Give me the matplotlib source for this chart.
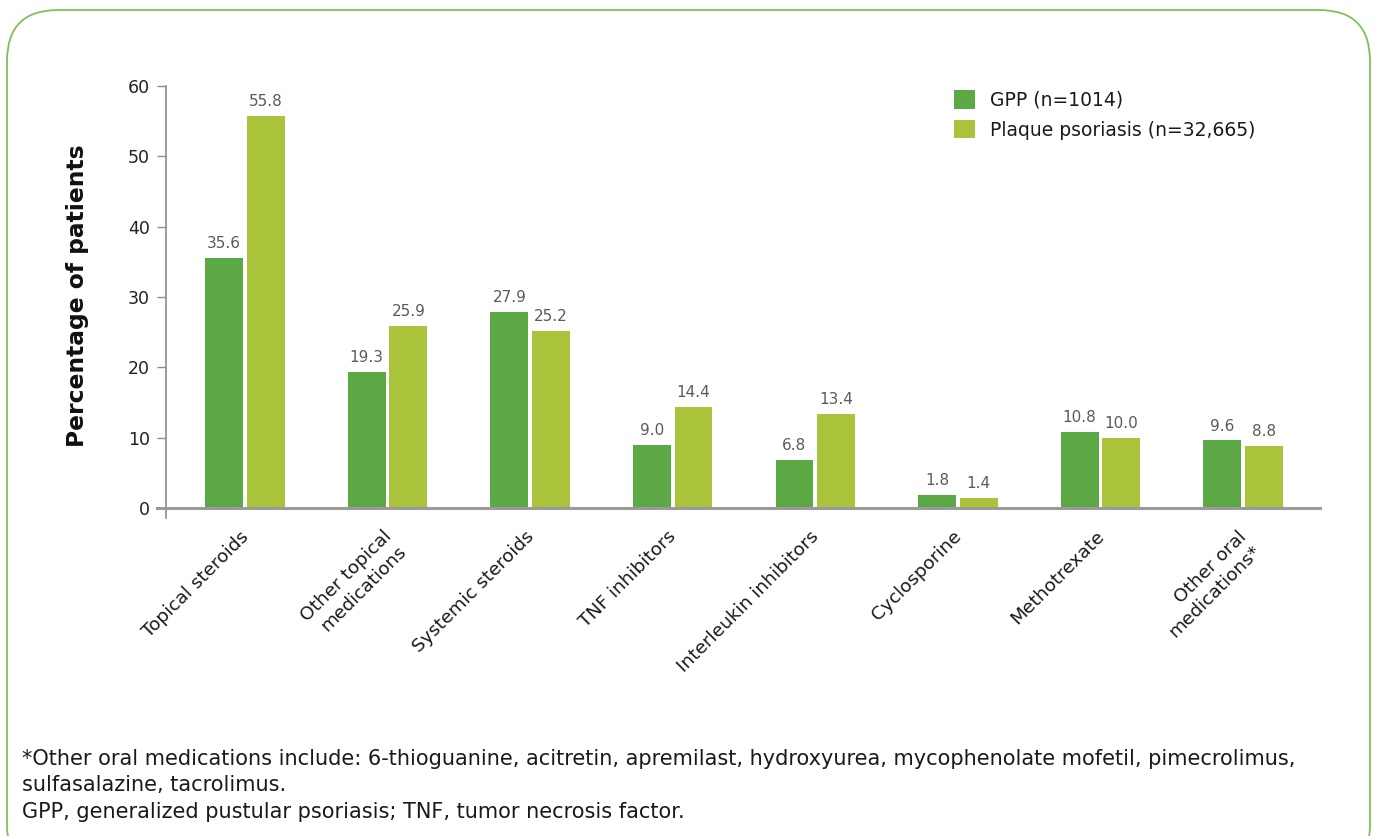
import matplotlib.pyplot as plt
from matplotlib.patches import FancyBboxPatch
import numpy as np

categories = ['Topical steroids', 'Other topical\nmedications', 'Systemic steroids',
              'TNF inhibitors', 'Interleukin inhibitors', 'Cyclosporine',
              'Methotrexate', 'Other oral\nmedications*']
gpp = [35.6, 19.3, 27.9, 9.0, 6.8, 1.8, 10.8, 9.6]
plaque = [55.8, 25.9, 25.2, 14.4, 13.4, 1.4, 10.0, 8.8]
series_names = ['GPP (n=1014)', 'Plaque psoriasis (n=32,665)']
yticks = [0, 10, 20, 30, 40, 50, 60]

dark = '#5ba845'
light = '#a9c43a'
grey = '#8c8c8c'

plt.rcParams['font.family'] = 'DejaVu Sans'
dpi = 100
fig = plt.figure(dpi=dpi, figsize=(1378 / dpi, 836 / dpi))

# rounded green frame
frame = FancyBboxPatch((7 / 1378, -40 / 836), 1363 / 1378, 866 / 836,
                       boxstyle='round,pad=0,rounding_size=0.037',
                       transform=fig.transFigure, facecolor='none',
                       edgecolor='#7cc160', linewidth=1.3, clip_on=False,
                       mutation_aspect=1378 / 836)
fig.patches.append(frame)

ax = fig.add_axes([166 / 1378, (836 - 518) / 836, 1154 / 1378, 432 / 836])
xs = np.arange(len(categories))
w = 0.266
off = 0.146
b1 = ax.bar(xs - off, gpp, width=w, color=dark, label=series_names[0], zorder=2)
b2 = ax.bar(xs + off, plaque, width=w, color=light, label=series_names[1], zorder=2)

for bars, vals in ((b1, gpp), (b2, plaque)):
    for rect, v in zip(bars, vals):
        ax.annotate(f'{v:.1f}', (rect.get_x() + rect.get_width() / 2, v),
                    xytext=(0, 5), textcoords='offset points',
                    ha='center', va='bottom', fontsize=11, color='#5a5a5a')

ax.set_xlim(-0.554, 7.54)
ax.set_ylim(-1.42, 60)
ax.set_yticks(yticks)
ax.tick_params(axis='y', length=6.5, width=1, color=grey, labelsize=12.5,
               labelcolor='#222222', pad=5)
ax.set_xticks([])
for s in ('top', 'right', 'bottom'):
    ax.spines[s].set_visible(False)
ax.spines['left'].set_color(grey)
ax.spines['left'].set_linewidth(1.2)
ax.axhline(0, xmin=-9 / 1154, xmax=1, color='#9a9a9a', linewidth=2.2,
           clip_on=False, zorder=3)

for x, lab in zip(xs, categories):
    ax.annotate(lab, (x, 0), xytext=(-4, -14), textcoords='offset points',
                rotation=45, rotation_mode='anchor', ha='right', va='top',
                multialignment='right', fontsize=13.3, color='#1a1a1a',
                annotation_clip=False)

ax.set_ylabel('Percentage of patients', fontsize=16.8, fontweight='bold',
              color='#111111', labelpad=28)
ax.yaxis.set_label_coords(-77 / 1154, 0.515)

ax.legend(loc='upper left', bbox_to_anchor=(771 / 1154, 1.03), frameon=False,
          fontsize=13.5, handlelength=1.15, handleheight=1.15, handletextpad=0.75,
          labelspacing=0.55, labelcolor='#1a1a1a')

foot = ('*Other oral medications include: 6-thioguanine, acitretin, apremilast, hydroxyurea, '
        'mycophenolate mofetil, pimecrolimus,\nsulfasalazine, tacrolimus.\n'
        'GPP, generalized pustular psoriasis; TNF, tumor necrosis factor.')
fig.text(22 / 1378, 1 - 749 / 836, foot, fontsize=15, color='#1a1a1a',
         va='top', ha='left', linespacing=1.4)

fig.savefig('out.png', dpi=dpi)
